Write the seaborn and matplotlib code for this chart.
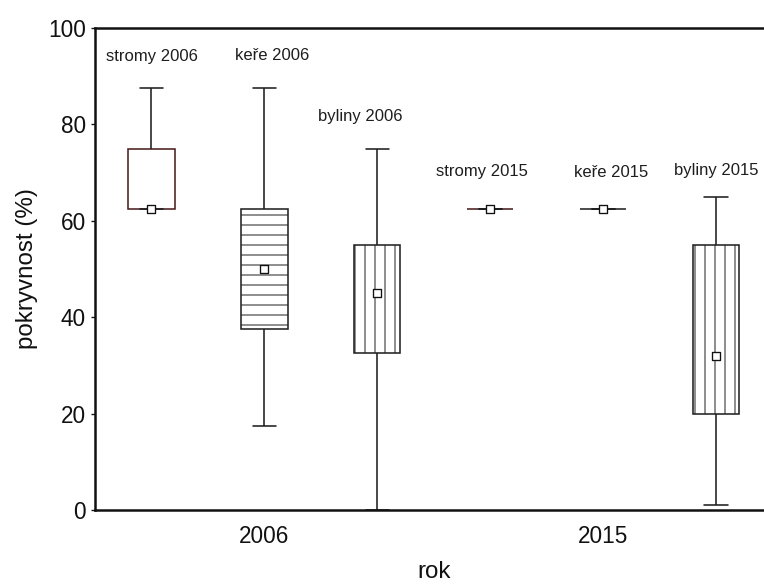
import numpy as np
import pandas as pd
import matplotlib
matplotlib.use("Agg")
import matplotlib.pyplot as plt
import seaborn as sns

# Groups (vegetation layer + year) and their five-number summaries
groups = ["stromy 2006", "keře 2006", "byliny 2006",
          "stromy 2015", "keře 2015", "byliny 2015"]
minimum = [62.5, 17.5, 0.0, 62.5, 62.5, 1.0]
q1 = [62.5, 37.5, 32.5, 62.5, 62.5, 20.0]
median = [62.5, 50.0, 45.0, 62.5, 62.5, 32.0]
q3 = [75.0, 62.5, 55.0, 62.5, 62.5, 55.0]
maximum = [87.5, 87.5, 75.0, 62.5, 62.5, 65.0]

# Label heights above the boxes (in % units)
label_y = [94.0, 94.3, 81.7, 70.3, 70.0, 70.5]
label_dx = [0.0, 0.07, -0.15, -0.07, 0.07, 0.0]

year_ticks = [1, 4]
year_labels = ["2006", "2015"]

hatches = ["", "--", "||", "", "", "||"]
edge_colors = ["#4a1f1f", "#222222", "#222222", "#4a1f1f", "#222222", "#222222"]

# Long-form table: each group given by its five summary values
rows = []
for g, a, b, c, d, e in zip(groups, minimum, q1, median, q3, maximum):
    for v in (a, b, c, d, e):
        rows.append({"skupina": g, "pokryvnost": v})
df = pd.DataFrame(rows)
med_df = pd.DataFrame({"skupina": groups, "median": median})

sns.set_theme(style="white")
plt.rcParams["font.family"] = ["Liberation Sans", "DejaVu Sans"]
plt.rcParams["hatch.linewidth"] = 0.6

dpi = 120
fig = plt.figure(figsize=(764 / dpi, 584 / dpi), dpi=dpi)
ax = fig.add_axes([95 / 764, 74 / 584, (772.5 - 95) / 764, (510 - 28) / 584])

sns.boxplot(data=df, x="skupina", y="pokryvnost", order=groups, ax=ax,
            whis=(0, 100), width=0.41, color="white", linecolor="#1e1e1e",
            linewidth=0.95, showfliers=False,
            medianprops={"visible": False})

# Hatching and edge colour per box, matched by box centre
for patch in ax.patches:
    verts = patch.get_path().vertices
    xc = (verts[:, 0].min() + verts[:, 0].max()) / 2
    i = int(round(xc))
    if 0 <= i < len(groups):
        patch.set_hatch(hatches[i])
        patch.set_edgecolor(edge_colors[i])
        patch.set_facecolor("white")

# Median squares
sns.scatterplot(data=med_df, x="skupina", y="median", ax=ax, marker="s",
                s=26, facecolor="white", edgecolor="#111111", linewidth=0.8,
                zorder=5, legend=False)

for i, g in enumerate(groups):
    ax.text(i + label_dx[i], label_y[i], g, ha="center", va="center",
            fontsize=10, color="#1e1e1e")

ax.set_xlim(-0.5, 5.5)
ax.set_ylim(0, 100)
ax.set_yticks([0, 20, 40, 60, 80, 100])
ax.set_xticks(year_ticks)
ax.set_xticklabels(year_labels)
ax.tick_params(axis="x", length=0, labelsize=13.5, pad=9, colors="#111111")
ax.tick_params(axis="y", length=2.5, width=0.8, direction="out",
               labelsize=13.5, pad=3, colors="#111111", left=True)
ax.set_xlabel("rok", fontsize=14.5, labelpad=8, color="#111111")
ax.set_ylabel("pokryvnost (%)", fontsize=14.5, labelpad=6, color="#111111")

for side in ("left", "top", "bottom"):
    ax.spines[side].set_visible(True)
    ax.spines[side].set_color("#111111")
    ax.spines[side].set_linewidth(1.5)
ax.spines["right"].set_visible(False)

fig.savefig("out.png", dpi=dpi)
